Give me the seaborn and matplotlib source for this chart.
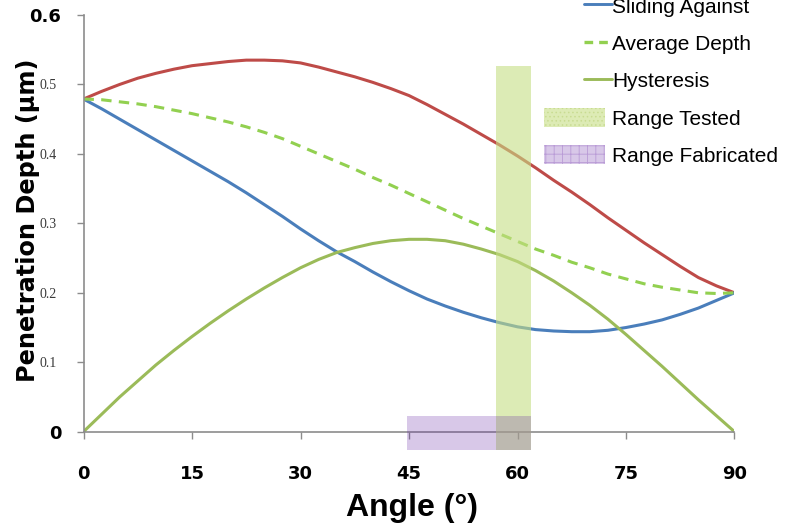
import matplotlib
matplotlib.use("Agg")
import matplotlib.pyplot as plt
import numpy as np
import pandas as pd
import seaborn as sns
from matplotlib.legend_handler import HandlerLine2D
from matplotlib.lines import Line2D
from matplotlib.patches import Patch

# Penetration depth (µm) versus angle (degrees)
angle = [0, 2.5, 5, 7.5, 10, 12.5, 15, 17.5, 20, 22.5, 25, 27.5, 30, 32.5, 35, 37.5,
         40, 42.5, 45, 47.5, 50, 52.5, 55, 57.5, 60, 62.5, 65, 67.5, 70, 72.5, 75,
         77.5, 80, 82.5, 85, 87.5, 90]
sliding_along = [0.479, 0.490, 0.500, 0.509, 0.516, 0.522, 0.527, 0.530, 0.533, 0.535,
                 0.535, 0.534, 0.531, 0.525, 0.518, 0.511, 0.503, 0.494, 0.484, 0.471,
                 0.457, 0.443, 0.428, 0.413, 0.397, 0.380, 0.362, 0.345, 0.327, 0.308,
                 0.290, 0.272, 0.255, 0.238, 0.222, 0.210, 0.200]
sliding_against = [0.479, 0.465, 0.450, 0.435, 0.420, 0.405, 0.390, 0.375, 0.360, 0.344,
                   0.327, 0.310, 0.292, 0.275, 0.259, 0.245, 0.230, 0.216, 0.203, 0.191,
                   0.181, 0.172, 0.164, 0.157, 0.151, 0.147, 0.145, 0.144, 0.144, 0.146,
                   0.150, 0.155, 0.161, 0.169, 0.178, 0.189, 0.200]
average_depth = [0.479, 0.478, 0.475, 0.472, 0.468, 0.463, 0.458, 0.452, 0.446, 0.439,
                 0.431, 0.422, 0.411, 0.400, 0.389, 0.378, 0.366, 0.355, 0.343, 0.331,
                 0.319, 0.307, 0.296, 0.285, 0.274, 0.263, 0.254, 0.244, 0.236, 0.227,
                 0.220, 0.213, 0.208, 0.204, 0.200, 0.199, 0.200]
hysteresis = [0.000, 0.025, 0.050, 0.073, 0.096, 0.117, 0.137, 0.156, 0.174, 0.191,
              0.207, 0.222, 0.236, 0.248, 0.258, 0.265, 0.271, 0.275, 0.277, 0.277,
              0.275, 0.270, 0.263, 0.255, 0.245, 0.232, 0.217, 0.200, 0.182, 0.162,
              0.140, 0.117, 0.094, 0.070, 0.046, 0.023, 0.000]

# Shaded angle ranges: (start, end) angles and (bottom, top) depths
tested_angles = [57.0, 61.8]
tested_depths = [-0.026, 0.527]
fabricated_angles = [44.7, 61.8]
fabricated_depths = [-0.026, 0.023]

series_names = ["Sliding Along", "Sliding Against", "Average Depth", "Hysteresis"]
x_ticks = [0, 15, 30, 45, 60, 75, 90]
y_ticks = [0, 0.1, 0.2, 0.3, 0.4, 0.5, 0.6]
y_tick_labels = ["0", "0.1", "0.2", "0.3", "0.4", "0.5", "0.6"]

sns.set_theme(style="white")
plt.rcParams["font.family"] = ["DejaVu Sans"]
plt.rcParams["hatch.linewidth"] = 0.6

RED = "#BE4B48"
BLUE = "#4A7EBB"
LIME = "#92D050"
OLIVE = "#9BBB59"
AXIS_GREY = "#8C8C8C"

df = pd.DataFrame({
    "Angle": angle,
    "Sliding Along": sliding_along,
    "Sliding Against": sliding_against,
    "Average Depth": average_depth,
    "Hysteresis": hysteresis,
}).melt(id_vars="Angle", var_name="Series", value_name="Depth")

fig = plt.figure(figsize=(7.91, 5.25), dpi=100)
ax = fig.add_axes([83.5 / 791, 69 / 525, 651 / 791, 441 / 525])

sns.lineplot(
    data=df, x="Angle", y="Depth", hue="Series", style="Series",
    hue_order=series_names, style_order=series_names,
    palette={"Sliding Along": RED, "Sliding Against": BLUE,
             "Average Depth": LIME, "Hysteresis": OLIVE},
    dashes={"Sliding Along": "", "Sliding Against": "",
            "Average Depth": (3.4, 2.4), "Hysteresis": ""},
    linewidth=2.2, sort=False, legend=False, ax=ax, zorder=2,
)
for line in ax.lines:
    line.set_solid_joinstyle("round")

# Range Tested band (translucent so the curves show through)
ax.fill_between(tested_angles, tested_depths[0], tested_depths[1],
                color=(198 / 255, 222 / 255, 132 / 255), alpha=0.6,
                linewidth=0, zorder=3)
# Range Fabricated band
ax.fill_between(fabricated_angles, fabricated_depths[0], fabricated_depths[1],
                color=(100 / 255, 36 / 255, 164 / 255), alpha=0.25,
                linewidth=0, zorder=4)

ax.set_xlim(0, 90)
ax.set_ylim(-0.035, 0.6)

for side in ("top", "right"):
    ax.spines[side].set_visible(False)
ax.spines["bottom"].set_position(("data", 0))
ax.spines["left"].set_bounds(0, 0.6)
for side in ("left", "bottom"):
    ax.spines[side].set_color(AXIS_GREY)
    ax.spines[side].set_linewidth(1.2)

ax.set_xticks(x_ticks)
ax.set_xticklabels([str(v) for v in x_ticks])
ax.set_yticks(y_ticks)
ax.set_yticklabels(y_tick_labels)
ax.tick_params(axis="both", which="major", direction="out", length=5,
               width=1.0, color=AXIS_GREY, left=True, bottom=True)
ax.tick_params(axis="x", pad=19)
for lab in ax.get_xticklabels():
    lab.set_fontweight("bold")
    lab.set_fontsize(13)
    lab.set_color("black")

for tick, text in zip(ax.yaxis.get_major_ticks(), y_tick_labels):
    if text in ("0", "0.6"):
        tick.label1.set_fontweight("bold")
        tick.label1.set_fontsize(13)
        tick.label1.set_color("black")
        tick.set_pad(11)
    else:
        tick.label1.set_fontfamily(["Liberation Serif"])
        tick.label1.set_fontsize(10)
        tick.label1.set_color("#3a3a3a")
        tick.set_pad(14)

ax.set_xlabel("Angle (°)", fontsize=23, fontweight="bold",
              family=["Liberation Sans"], color="black")
ax.xaxis.set_label_coords(0.505, -0.085)
ax.set_ylabel("Penetration Depth (µm)", fontsize=17.3, fontweight="bold", color="black")
ax.yaxis.set_label_coords(-0.0675, 0.535)


class RightPartLine(HandlerLine2D):
    """Legend line drawn over the right part of the handle box, up to the label."""

    def get_xdata(self, legend, xdescent, ydescent, width, height, fontsize):
        xdata = np.array([-xdescent + 0.65 * width, -xdescent + width + 4.5])
        return xdata, xdata


handles = [
    Line2D([], [], color=BLUE, linewidth=2.1),
    Line2D([], [], color=LIME, linewidth=2.4, dashes=(2.6, 1.8)),
    Line2D([], [], color=OLIVE, linewidth=2.1),
    Patch(facecolor="#DDEBB5", edgecolor="#C9DC92", linewidth=0, hatch="...."),
    Patch(facecolor="#D8C8E8", edgecolor="#B99BD6", linewidth=0, hatch="++"),
]
labels = ["Sliding Against", "Average Depth", "Hysteresis",
          "Range Tested", "Range Fabricated"]
fig.legend(
    handles, labels, loc="center left",
    bbox_to_anchor=(544 / 791, 1 - 81 / 525),
    frameon=False, borderpad=0, borderaxespad=0,
    handlelength=2.95, handleheight=1.0, handletextpad=0.33,
    labelspacing=0.81, labelcolor="black",
    prop={"family": ["Liberation Sans"], "size": 15},
    handler_map={Line2D: RightPartLine()},
)

fig.savefig("out.png", dpi=100)
